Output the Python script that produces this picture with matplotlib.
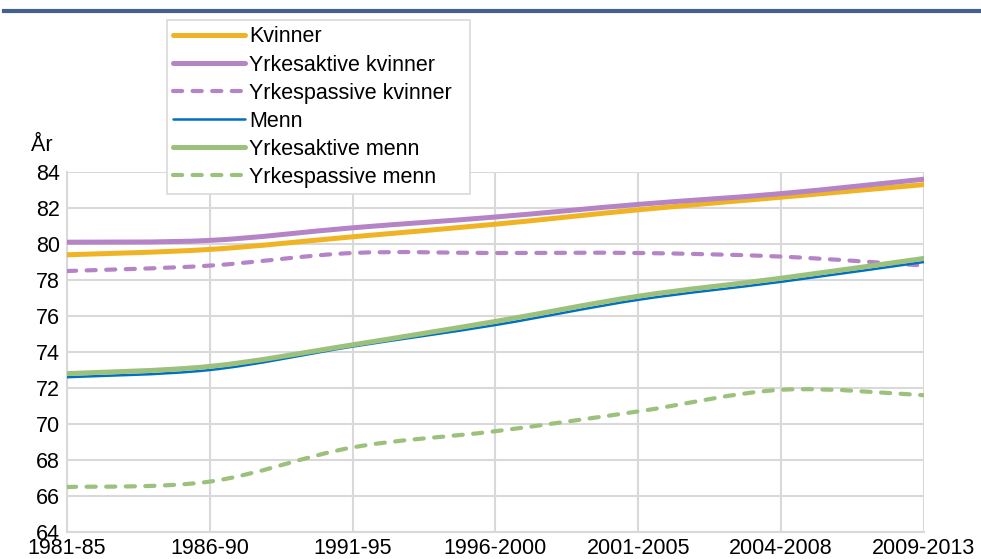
import numpy as np
import matplotlib.pyplot as plt
from matplotlib.path import Path
from matplotlib.patches import PathPatch
from matplotlib.lines import Line2D

plt.rcParams['font.family'] = ['Liberation Sans', 'DejaVu Sans']

periods = ['1981-85', '1986-90', '1991-95', '1996-2000', '2001-2005', '2004-2008', '2009-2013']
kvinner = [79.4, 79.7, 80.4, 81.1, 81.9, 82.6, 83.3]
yrkesaktive_kvinner = [80.1, 80.2, 80.9, 81.5, 82.2, 82.8, 83.6]
yrkespassive_kvinner = [78.5, 78.8, 79.5, 79.5, 79.5, 79.3, 78.8]
menn = [72.6, 73.0, 74.3, 75.5, 76.9, 77.9, 79.0]
yrkesaktive_menn = [72.8, 73.2, 74.4, 75.7, 77.1, 78.1, 79.2]
yrkespassive_menn = [66.5, 66.8, 68.7, 69.6, 70.7, 71.9, 71.6]

dash = (0, (2.2, 2.5))
series = [
    ('Kvinner', kvinner, '#f0b323', 3.6, '-'),
    ('Yrkesaktive kvinner', yrkesaktive_kvinner, '#b584c6', 3.6, '-'),
    ('Yrkespassive kvinner', yrkespassive_kvinner, '#b584c6', 3.0, dash),
    ('Menn', menn, '#0070c0', 1.8, '-'),
    ('Yrkesaktive menn', yrkesaktive_menn, '#9bc17c', 3.6, '-'),
    ('Yrkespassive menn', yrkespassive_menn, '#9bc17c', 3.0, dash),
]


def smooth_path(x, y, t=1 / 6):
    # Excel-like smoothed line: cubic Bezier through the data points
    x = np.asarray(x, float)
    y = np.asarray(y, float)
    verts = [(x[0], y[0])]
    codes = [Path.MOVETO]
    n = len(x)
    for i in range(n - 1):
        p0 = i - 1 if i > 0 else i
        p3 = i + 2 if i + 2 < n else i + 1
        c1 = (x[i] + (x[i + 1] - x[p0]) * t, y[i] + (y[i + 1] - y[p0]) * t)
        c2 = (x[i + 1] - (x[p3] - x[i]) * t, y[i + 1] - (y[p3] - y[i]) * t)
        verts += [c1, c2, (x[i + 1], y[i + 1])]
        codes += [Path.CURVE4] * 3
    return Path(verts, codes)


fig = plt.figure(figsize=(9.81, 5.59), dpi=100)
ax = fig.add_axes([67 / 981, 1 - 532 / 559, (924 - 67) / 981, (532 - 172) / 559])

xs = np.arange(len(periods))
handles = []
for label, vals, color, lw, ls in series:
    patch = PathPatch(smooth_path(xs, vals), fill=False, edgecolor=color,
                      linewidth=lw, linestyle=ls, capstyle='round', zorder=3)
    ax.add_patch(patch)
    handles.append(Line2D([], [], color=color, linewidth=lw, linestyle=ls,
                          solid_capstyle='round', dash_capstyle='round', label=label))

ax.set_xlim(0, len(periods) - 1)
ax.set_ylim(64, 84)
ax.set_yticks(np.arange(64, 85, 2))
ax.set_xticks(xs)
ax.set_xticklabels(periods)
ax.tick_params(length=0, labelsize=15.5, pad=5)
ax.tick_params(axis='x', pad=4)
ax.grid(True, color='#d9d9d9', linewidth=1.5)
ax.set_axisbelow(True)
for side in ['top', 'right']:
    ax.spines[side].set_visible(False)
for side in ['left', 'bottom']:
    ax.spines[side].set_color('#d9d9d9')
    ax.spines[side].set_linewidth(1.5)

fig.text(31 / 981, 1 - 146 / 559, 'År', fontsize=15.5, ha='left', va='center')

# top rule
fig.add_artist(Line2D([4 / 981, 1], [1 - 11 / 559, 1 - 11 / 559], color='#44618e', linewidth=3))

leg = fig.legend(handles=handles, loc='upper left',
                 bbox_to_anchor=(167 / 981, 1 - 193 / 559, 303 / 981, 173 / 559),
                 mode='expand', borderaxespad=0, fontsize=15.5, handlelength=3.3,
                 labelspacing=0.33, handletextpad=0.2, fancybox=False, framealpha=1,
                 borderpad=0.3)
leg.get_frame().set_edgecolor('#d9d9d9')
leg.get_frame().set_linewidth(1.2)

fig.savefig('out.png', dpi=100)
